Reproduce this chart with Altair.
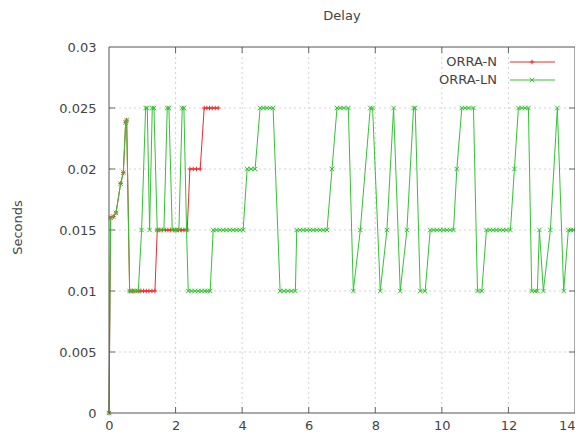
import altair as alt
import pandas as pd

series_names = ["ORRA-N", "ORRA-LN"]
series_colors = ["#ee2a2a", "#33c333"]

# ORRA-N (red)
red_x = [0, 0.05, 0.13, 0.21, 0.35, 0.43, 0.5, 0.53,
         0.62, 0.7, 0.78, 0.88, 0.96, 1.04, 1.12, 1.2, 1.29, 1.38,
         1.45, 1.53, 1.61, 1.69, 1.77, 1.85, 1.93, 2.01, 2.09, 2.17, 2.25, 2.35,
         2.43, 2.53, 2.63, 2.74,
         2.86, 2.94, 3.02, 3.1, 3.19, 3.28]
red_y = [0, 0.016, 0.0161, 0.0164, 0.0188, 0.0197, 0.0238, 0.024,
         0.01, 0.01, 0.01, 0.01, 0.01, 0.01, 0.01, 0.01, 0.01, 0.01,
         0.015, 0.015, 0.015, 0.015, 0.015, 0.015, 0.015, 0.015, 0.015, 0.015, 0.015, 0.015,
         0.02, 0.02, 0.02, 0.02,
         0.025, 0.025, 0.025, 0.025, 0.025, 0.025]

# ORRA-LN (green)
green_x = [0, 0.05, 0.13, 0.21, 0.35, 0.43, 0.5, 0.53,
           0.62, 0.7, 0.78, 0.88,
           0.98, 1.1, 1.15, 1.22, 1.3, 1.35, 1.45, 1.55, 1.65, 1.75, 1.8, 1.9, 2.0, 2.1, 2.2, 2.25, 2.33,
           2.38, 2.48, 2.58, 2.68, 2.78, 2.88, 2.96, 3.04,
           3.13, 3.23, 3.33, 3.43, 3.53, 3.63, 3.73, 3.83, 3.93, 4.03,
           4.15, 4.27, 4.39,
           4.54, 4.64, 4.74, 4.84, 4.93,
           5.14, 5.25, 5.37, 5.48, 5.6,
           5.64, 5.74, 5.84, 5.94, 6.04, 6.14, 6.24, 6.34, 6.44, 6.55,
           6.7, 6.85, 6.95, 7.05, 7.19,
           7.34, 7.55, 7.85, 7.92, 8.15, 8.35, 8.55, 8.75, 8.95, 9.15, 9.2, 9.35, 9.5,
           9.65, 9.75, 9.85, 9.95, 10.05, 10.15, 10.25, 10.35,
           10.45, 10.6, 10.7, 10.8, 10.95,
           11.07, 11.2,
           11.34, 11.44, 11.54, 11.64, 11.74, 11.84, 11.94, 12.06,
           12.18, 12.3, 12.4, 12.5, 12.6,
           12.7, 12.8, 12.87, 12.93, 13.05, 13.26, 13.47, 13.66, 13.8, 13.88, 13.95]
green_y = [0, 0.016, 0.0161, 0.0164, 0.0188, 0.0197, 0.0238, 0.024,
           0.01, 0.01, 0.01, 0.01,
           0.015, 0.025, 0.025, 0.015, 0.025, 0.025, 0.015, 0.015, 0.015, 0.025, 0.025, 0.015, 0.015, 0.015, 0.025, 0.025, 0.015,
           0.01, 0.01, 0.01, 0.01, 0.01, 0.01, 0.01, 0.01,
           0.015, 0.015, 0.015, 0.015, 0.015, 0.015, 0.015, 0.015, 0.015, 0.015,
           0.02, 0.02, 0.02,
           0.025, 0.025, 0.025, 0.025, 0.025,
           0.01, 0.01, 0.01, 0.01, 0.01,
           0.015, 0.015, 0.015, 0.015, 0.015, 0.015, 0.015, 0.015, 0.015, 0.015,
           0.02, 0.025, 0.025, 0.025, 0.025,
           0.01, 0.015, 0.025, 0.025, 0.01, 0.015, 0.025, 0.01, 0.015, 0.025, 0.025, 0.01, 0.01,
           0.015, 0.015, 0.015, 0.015, 0.015, 0.015, 0.015, 0.015,
           0.02, 0.025, 0.025, 0.025, 0.025,
           0.01, 0.01,
           0.015, 0.015, 0.015, 0.015, 0.015, 0.015, 0.015, 0.015,
           0.02, 0.025, 0.025, 0.025, 0.025,
           0.01, 0.01, 0.01, 0.015, 0.01, 0.015, 0.025, 0.01, 0.015, 0.015, 0.015]

x_tick_values = [0, 2, 4, 6, 8, 10, 12, 14]
y_tick_values = [0, 0.005, 0.01, 0.015, 0.02, 0.025, 0.03]
x_inner_ticks = [2, 4, 6, 8, 10, 12]
y_inner_ticks = [0.005, 0.01, 0.015, 0.02, 0.025]

W, H = 466, 366
FONT = "DejaVu Sans"
TXT = "#444444"
GRID = "#d2d2d2"
BORDER = "#555555"
TICK_LEN = 6

x_scale = alt.Scale(domain=[0, 14], nice=False, zero=False)
y_scale = alt.Scale(domain=[0, 0.03], nice=False)

x_axis = alt.Axis(values=x_tick_values, format="d", grid=False, ticks=False, domain=False,
                  labelFont=FONT, labelFontSize=13, labelColor=TXT, labelPadding=6,
                  title=None, labelFlush=False,
                  labelAlign={"condition": {"test": "datum.value == 14", "value": "right"},
                              "value": "center"})
y_axis = alt.Axis(values=y_tick_values, format="~g", grid=False, ticks=False, domain=False,
                  labelFont=FONT, labelFontSize=13, labelColor=TXT, labelPadding=13,
                  title="Seconds", titleFont=FONT, titleFontSize=13,
                  titleFontWeight="normal", titleColor=TXT, titleX=-92, titleY=180,
                  titleAngle=270, titleAlign="center", titleBaseline="middle",
                  labelFlush=False)

X = alt.X("x:Q", scale=x_scale, axis=x_axis)
Y = alt.Y("y:Q", scale=y_scale, axis=y_axis)

red_df = pd.DataFrame({"x": red_x, "y": red_y})
green_df = pd.DataFrame({"x": green_x, "y": green_y})

plus_shape = "M-1,0L1,0M0,-1L0,1"
cross_shape = "M-1,-1L1,1M-1,1L1,-1"

layers = []

xt = pd.DataFrame({"x": x_inner_ticks})
yt = pd.DataFrame({"y": y_inner_ticks})

# grid lines (dotted, light)
layers.append(alt.Chart(xt).mark_rule(color=GRID, strokeWidth=1, strokeDash=[2, 3]).encode(
    x=X, y=alt.value(0), y2=alt.value(H)))
layers.append(alt.Chart(yt).mark_rule(color=GRID, strokeWidth=1, strokeDash=[2, 3]).encode(
    y=Y, x=alt.value(0), x2=alt.value(W)))

# inward ticks on all four sides
layers.append(alt.Chart(xt).mark_rule(color="#666", strokeWidth=1).encode(
    x=X, y=alt.value(H), y2=alt.value(H - TICK_LEN)))
layers.append(alt.Chart(xt).mark_rule(color="#666", strokeWidth=1).encode(
    x=X, y=alt.value(0), y2=alt.value(TICK_LEN)))
layers.append(alt.Chart(yt).mark_rule(color="#666", strokeWidth=1).encode(
    y=Y, x=alt.value(0), x2=alt.value(TICK_LEN)))
layers.append(alt.Chart(yt).mark_rule(color="#666", strokeWidth=1).encode(
    y=Y, x=alt.value(W), x2=alt.value(W - TICK_LEN)))

for df, color, shape in [(red_df, series_colors[0], plus_shape),
                         (green_df, series_colors[1], cross_shape)]:
    layers.append(alt.Chart(df).mark_line(color=color, strokeWidth=1).encode(x=X, y=Y))
    layers.append(alt.Chart(df).mark_point(shape=shape, color=color, filled=False,
                                           strokeWidth=1, size=20, opacity=1).encode(x=X, y=Y))

# legend (top right, inside plot, gnuplot style)
shapes = [plus_shape, cross_shape]
for i, name in enumerate(series_names):
    ldf = pd.DataFrame({"name": [name]})
    ypos = 15 + 18 * i
    layers.append(alt.Chart(ldf).mark_text(align="right", baseline="middle", font=FONT,
                                           fontSize=13, color=TXT).encode(
        text="name:N", x=alt.value(388), y=alt.value(ypos)))
    layers.append(alt.Chart(ldf).mark_rule(color=series_colors[i], strokeWidth=1).encode(
        x=alt.value(401), x2=alt.value(446), y=alt.value(ypos)))
    layers.append(alt.Chart(ldf).mark_point(shape=shapes[i], color=series_colors[i],
                                            filled=False, strokeWidth=1, size=20,
                                            opacity=1).encode(
        x=alt.value(423), y=alt.value(ypos)))

# plot border
bdf = pd.DataFrame({"k": [0]})
layers.append(alt.Chart(bdf).mark_rule(color=BORDER, strokeWidth=1).encode(
    x=alt.value(0), x2=alt.value(W), y=alt.value(0)))
layers.append(alt.Chart(bdf).mark_rule(color=BORDER, strokeWidth=1).encode(
    x=alt.value(0), x2=alt.value(W), y=alt.value(H)))
layers.append(alt.Chart(bdf).mark_rule(color=BORDER, strokeWidth=1).encode(
    x=alt.value(0), y=alt.value(0), y2=alt.value(H)))
layers.append(alt.Chart(bdf).mark_rule(color=BORDER, strokeWidth=1).encode(
    x=alt.value(W), y=alt.value(0), y2=alt.value(H)))

chart = alt.layer(*layers).properties(
    width=W, height=H,
    autosize=alt.AutoSizeParams(type="none"),
    padding={"left": 101, "top": 39, "right": 0, "bottom": 20},
    title=alt.Title("Delay", font=FONT, fontSize=13, fontWeight="normal",
                    color=TXT, offset=18, anchor="middle"),
    background="white",
).configure_view(stroke=None)

chart.save("out.html", embed_options={"renderer": "svg", "actions": False})
